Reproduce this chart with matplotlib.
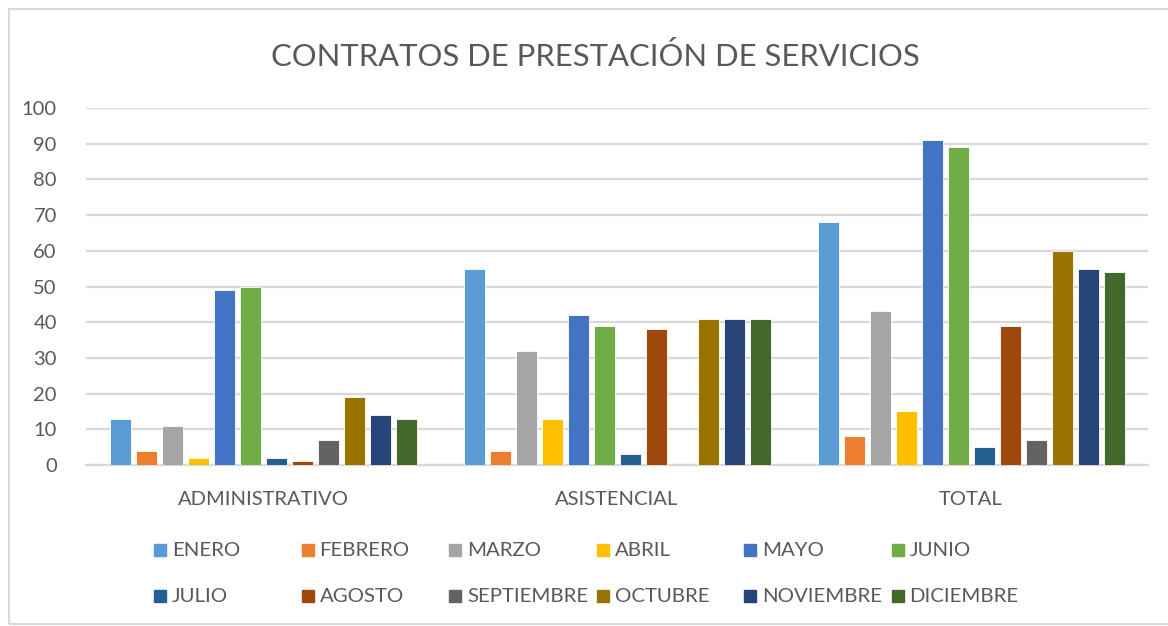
import numpy as np
import matplotlib
matplotlib.use("Agg")
import matplotlib.pyplot as plt
from matplotlib.patches import Rectangle

plt.rcParams['font.family'] = ['Lato', 'DejaVu Sans']

categorias = ["ADMINISTRATIVO", "ASISTENCIAL", "TOTAL"]
meses = ["ENERO", "FEBRERO", "MARZO", "ABRIL", "MAYO", "JUNIO",
         "JULIO", "AGOSTO", "SEPTIEMBRE", "OCTUBRE", "NOVIEMBRE", "DICIEMBRE"]
administrativo = [13, 4, 11, 2, 49, 50, 2, 1, 7, 19, 14, 13]
asistencial = [55, 4, 32, 13, 42, 39, 3, 38, 0, 41, 41, 41]
total = [68, 8, 43, 15, 91, 89, 5, 39, 7, 60, 55, 54]
colores = ["#5B9BD5", "#ED7D31", "#A5A5A5", "#FFC000", "#4472C4", "#70AD47",
           "#255E91", "#9E480E", "#636363", "#997300", "#264478", "#43682B"]

texto = "#595959"
W, H = 1168, 626

fig = plt.figure(figsize=(W / 100, H / 100), dpi=100)
# ejes en pixeles: x 86..1148, y 108..465
ax = fig.add_axes([86 / W, 1 - 465 / H, (1148 - 86) / W, (465 - 108) / H])

valores = np.array([administrativo, asistencial, total])  # (cat, mes)
x = np.arange(len(categorias))
paso = 26 / 354
ancho = 21 / 354
for j, mes in enumerate(meses):
    ax.bar(x + (j - 5.5) * paso, valores[:, j], width=ancho, color=colores[j],
           edgecolor="white", linewidth=0.6, zorder=3)

ax.set_xlim(-0.5, 2.5)
ax.set_ylim(0, 100)
ax.set_yticks(range(0, 101, 10))
ax.yaxis.grid(True, color="#D9D9D9", linewidth=1.6, zorder=0)
ax.set_xticks(x)
ax.set_xticklabels(categorias)
ax.tick_params(axis="both", length=0, labelsize=14.5, labelcolor=texto)
ax.tick_params(axis="y", pad=21)
ax.tick_params(axis="x", pad=19)
for s in ["top", "right", "left"]:
    ax.spines[s].set_visible(False)
ax.spines["bottom"].set_color("#D9D9D9")
ax.spines["bottom"].set_linewidth(1.6)

fig.text(595 / W, 1 - 56 / H, "CONTRATOS DE PRESTACIÓN DE SERVICIOS",
         ha="center", va="center", fontsize=22.3, color=texto)

# leyenda en dos filas de seis
for j, mes in enumerate(meses):
    col, fila = j % 6, j // 6
    px = 154 + col * 147.5
    py = 550 + fila * 46
    fig.patches.append(Rectangle((px / W, 1 - (py + 6) / H), 12 / W, 12 / H,
                                 transform=fig.transFigure, color=colores[j]))
    fig.text((px + 18) / W, 1 - py / H, mes, ha="left", va="center",
             fontsize=14.7, color=texto)

# marco del grafico
fig.patches.append(Rectangle((9 / W, 2 / H), 1.2, 1 - 11 / H, transform=fig.transFigure,
                             fill=False, edgecolor="#D9D9D9", linewidth=1.5))

fig.savefig("out.png", dpi=100)
